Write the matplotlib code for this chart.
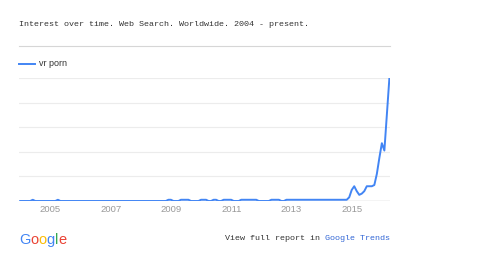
import matplotlib

matplotlib.use("Agg")
import matplotlib.pyplot as plt
import numpy as np

# Monthly interest values, Jan 2004 - Apr 2016
values_2004 = [0, 0, 0, 0, 0, 1, 0, 0, 0, 0, 0, 0]
values_2005 = [0, 0, 0, 1, 0, 0, 0, 0, 0, 0, 0, 0]
values_2006 = [0, 0, 0, 0, 0, 0, 0, 0, 0, 0, 0, 0]
values_2007 = [0, 0, 0, 0, 0, 0, 0, 0, 0, 0, 0, 0]
values_2008 = [0, 0, 0, 0, 0, 0, 0, 0, 0, 0, 0, 1]
values_2009 = [1, 0, 0, 0, 1, 1, 1, 1, 0, 0, 0, 0]
values_2010 = [1, 1, 1, 0, 0, 1, 1, 0, 0, 1, 1, 1]
values_2011 = [1, 0, 0, 0, 1, 1, 1, 1, 1, 1, 1, 0]
values_2012 = [0, 0, 0, 0, 1, 1, 1, 1, 0, 0, 1, 1]
values_2013 = [1, 1, 1, 1, 1, 1, 1, 1, 1, 1, 1, 1]
values_2014 = [1, 1, 1, 1, 1, 1, 1, 1, 1, 1, 1, 3]
values_2015 = [9, 12, 8, 5, 6, 8, 12, 12, 12, 13, 22, 35]
values_2016 = [47, 41, 70, 100]

series = (values_2004 + values_2005 + values_2006 + values_2007 + values_2008
          + values_2009 + values_2010 + values_2011 + values_2012 + values_2013
          + values_2014 + values_2015 + values_2016)
months = 2004 + np.arange(len(series)) / 12.0

year_ticks = [2005, 2007, 2009, 2011, 2013, 2015]
grid_values = [20, 40, 60, 80, 100]

title = "Interest over time. Web Search. Worldwide. 2004 - present."
term = "vr porn"

blue = "#4285f4"
mono = "Liberation Mono"

fig = plt.figure(figsize=(4.99, 2.64), dpi=100)
W, H = 499, 264

ax = fig.add_axes([19 / W, (H - 201) / H, 371 / W, 123 / H])
ax.plot(months, series, color=blue, lw=1.4, solid_joinstyle="round")
ax.set_xlim(2003.96, 2016.27)
ax.set_ylim(0, 100)

for g in grid_values:
    ax.axhline(g, color="#ececec", lw=0.8, zorder=0)
ax.axhline(0, color="#c8c8c8", lw=1.0, zorder=0)

for s in ax.spines.values():
    s.set_visible(False)
ax.set_yticks([])
ax.set_xticks(year_ticks)
ax.set_xticklabels([str(y) for y in year_ticks], color="#999999",
                   fontsize=6.8, family="Liberation Sans")
ax.tick_params(axis="x", length=0, pad=3)

# header
fig.text(19 / W, 1 - 25 / H, title, family=mono, fontsize=6, color="#333333",
         va="center", ha="left")
fig.add_artist(plt.Line2D([19 / W, 390 / W], [1 - 46 / H, 1 - 46 / H],
                          color="#d6d6d6", lw=0.8))

# legend
fig.add_artist(plt.Line2D([19 / W, 35 / W], [1 - 64 / H, 1 - 64 / H],
                          color=blue, lw=1.4))
fig.text(39 / W, 1 - 63.5 / H, term, family="Liberation Sans", fontsize=6.5,
         color="#333333", va="center", ha="left")

# footer: Google logo
logo_colors = ["#4285F4", "#EA4335", "#FBBC05", "#4285F4", "#34A853", "#EA4335"]
renderer = fig.canvas.get_renderer()
x = 19
for ch, c in zip("Google", logo_colors):
    t = fig.text(x / W, 1 - 240 / H, ch, family="Liberation Sans", fontsize=10.5,
                 color=c, va="center", ha="left")
    x += t.get_window_extent(renderer).width

# footer: link text
link = fig.text(390 / W, 1 - 238 / H, "Google Trends", family=mono, fontsize=6,
                color="#3367d6", va="center", ha="right")
lx = link.get_window_extent(renderer).x0
fig.text(lx / W, 1 - 238 / H, "View full report in ", family=mono, fontsize=6,
         color="#333333", va="center", ha="right")

fig.savefig("out.png", dpi=100)
